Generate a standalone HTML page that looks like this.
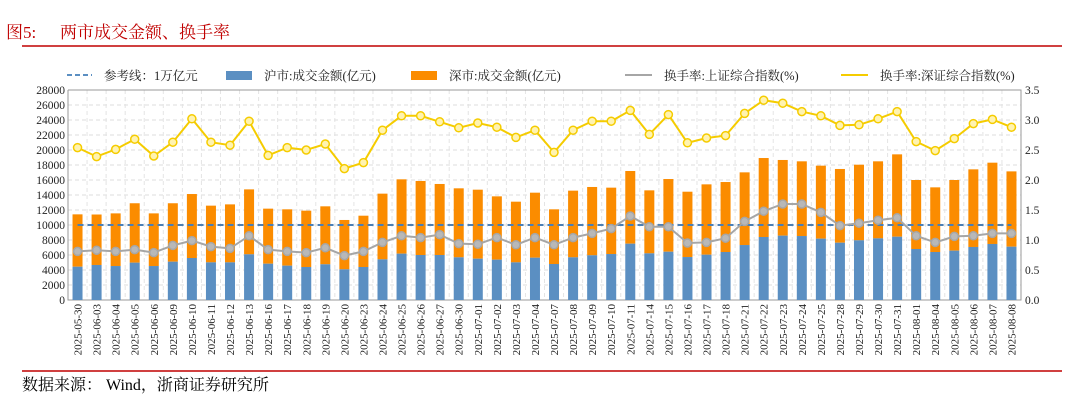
<!DOCTYPE html>
<html><head><meta charset="utf-8"><style>
body{margin:0;background:#fff;width:1080px;height:402px;overflow:hidden;font-family:"Liberation Serif","Noto Serif CJK SC",serif}
</style></head><body>
<svg id="c" width="1080" height="402" xmlns="http://www.w3.org/2000/svg">
<text x="6" y="38" font-size="17" fill="#c00000" font-family="Liberation Serif, Noto Serif CJK SC, serif">图5:</text>
<text x="60" y="38" font-size="17" fill="#c00000" font-family="Liberation Serif, Noto Serif CJK SC, serif">两市成交金额、换手率</text>
<line x1="22" y1="46" x2="1062" y2="46" stroke="#c00000" stroke-width="1.5"/>
<line x1="22" y1="371" x2="1062" y2="371" stroke="#c00000" stroke-width="1.5"/>
<text x="22" y="390" font-size="16" fill="#000" font-family="Liberation Serif, Noto Serif CJK SC, serif">数据来源： Wind，浙商证券研究所</text>
<g id="g"></g>
</svg>
<script>
const dates=["2025-05-30","2025-06-03","2025-06-04","2025-06-05","2025-06-06","2025-06-09","2025-06-10","2025-06-11","2025-06-12","2025-06-13","2025-06-16","2025-06-17","2025-06-18","2025-06-19","2025-06-20","2025-06-23","2025-06-24","2025-06-25","2025-06-26","2025-06-27","2025-06-30","2025-07-01","2025-07-02","2025-07-03","2025-07-04","2025-07-07","2025-07-08","2025-07-09","2025-07-10","2025-07-11","2025-07-14","2025-07-15","2025-07-16","2025-07-17","2025-07-18","2025-07-21","2025-07-22","2025-07-23","2025-07-24","2025-07-25","2025-07-28","2025-07-29","2025-07-30","2025-07-31","2025-08-01","2025-08-04","2025-08-05","2025-08-06","2025-08-07","2025-08-08"];
const totalAmt=[11420,11400,11550,12900,11550,12900,14130,12580,12750,14750,12180,12090,11910,12490,10670,11240,14180,16090,15870,15470,14890,14710,13820,13110,14310,12090,14580,15070,14980,17200,14620,16130,14440,15420,15730,17020,18930,18670,18490,17910,17470,18040,18490,19420,16000,15020,16000,17420,18310,17150];
const shAmt=[4440,4670,4530,4980,4530,5110,5600,5020,5020,6090,4840,4580,4400,4760,4090,4400,5420,6180,6000,6000,5690,5510,5380,5020,5640,4800,5690,5960,6130,7510,6220,6440,5730,6040,6400,7330,8400,8580,8530,8180,7640,7960,8220,8440,6800,6400,6580,7070,7470,7110];
const shTurn=[0.81,0.83,0.81,0.84,0.79,0.91,0.99,0.89,0.86,1.07,0.84,0.81,0.79,0.87,0.74,0.81,0.96,1.07,1.04,1.09,0.94,0.93,1.04,0.92,1.04,0.92,1.04,1.11,1.19,1.40,1.22,1.22,0.95,0.96,1.03,1.31,1.48,1.60,1.60,1.46,1.24,1.28,1.33,1.37,1.07,0.96,1.06,1.07,1.11,1.11];
const szTurn=[2.54,2.39,2.51,2.68,2.40,2.63,3.02,2.63,2.58,2.98,2.41,2.54,2.50,2.60,2.19,2.29,2.83,3.07,3.07,2.97,2.87,2.95,2.88,2.71,2.83,2.46,2.83,2.98,2.98,3.16,2.76,3.09,2.62,2.70,2.74,3.11,3.33,3.28,3.14,3.07,2.91,2.92,3.02,3.14,2.64,2.49,2.69,2.94,3.01,2.88];
const refLine=10000;
const leftTicks=[0,2000,4000,6000,8000,10000,12000,14000,16000,18000,20000,22000,24000,26000,28000];
const rightTicks=["0.0","0.5","1.0","1.5","2.0","2.5","3.0","3.5"];

const L=68,R=1021,T=90,B=300,NS="http://www.w3.org/2000/svg";
const g=document.getElementById('g');
const step=(R-L)/dates.length;
const xc=i=>L+step*(i+0.5);
const yL=v=>B-(v/28000)*(B-T);
const yR=v=>B-(v/3.5)*(B-T);
function el(t,a,p){const e=document.createElementNS(NS,t);for(const k in a)e.setAttribute(k,a[k]);(p||g).appendChild(e);return e;}
leftTicks.forEach(v=>{const l=el('line',{x1:L,x2:R,y1:yL(v),y2:yL(v),stroke:'#ddd','stroke-dasharray':'4,3'});

});
dates.forEach((d,i)=>{const l=el('line',{x1:L+step*(i+1),x2:L+step*(i+1),y1:T,y2:B,stroke:'#e4e4e4','stroke-dasharray':'4,3'});

});
const ax=el('path',{d:`M${L},${T}V${B}H${R}V${T}H${L}`,fill:'none',stroke:'#999'});


leftTicks.forEach(v=>{const t=el('text',{x:L-3,y:yL(v)+4,'text-anchor':'end','font-size':11.5,fill:'#222'});t.textContent=v;

});
rightTicks.forEach(v=>{const t=el('text',{x:R+4,y:yR(+v)+4,'font-size':11.5,fill:'#222'});t.textContent=v;

});
dates.forEach((d,i)=>{const t=el('text',{x:0,y:0,'text-anchor':'end','font-size':11,fill:'#222',transform:`translate(${xc(i)+4},${B+4}) rotate(-90)`});t.textContent=d;

});
const bw=10;
dates.forEach((d,i)=>{
 const b1=el('rect',{x:xc(i)-bw/2,y:yL(totalAmt[i]),width:bw,height:yL(shAmt[i])-yL(totalAmt[i]),fill:'#fb8c00'});
 
 
 const b2=el('rect',{x:xc(i)-bw/2,y:yL(shAmt[i]),width:bw,height:B-yL(shAmt[i]),fill:'#5b8fc2'});
 
 
});
const rl=el('line',{x1:xc(0),x2:xc(dates.length-1),y1:yL(refLine),y2:yL(refLine),stroke:'#4a7fb5','stroke-width':2,'stroke-dasharray':'6,4'});


function series(arr,col,fill,name){
 const p=el('polyline',{points:arr.map((v,i)=>xc(i)+','+yR(v)).join(' '),fill:'none',stroke:col,'stroke-width':2});
 
 
 arr.forEach((v,i)=>{const c=el('circle',{cx:xc(i),cy:yR(v),r:4,fill:fill,stroke:col,'stroke-width':1.5});
 
 });
}
series(shTurn,'#a6a6a6','#b8b8b8','sh-turnover');
series(szTurn,'#f5cc00','#fff3b0','sz-turnover');
const lg=el('g',{});


const ly=75;
el('line',{x1:67,x2:92,y1:ly,y2:ly,stroke:'#5b8fc2','stroke-width':2,'stroke-dasharray':'5,3'},lg);
el('rect',{x:226,y:ly-4,width:26,height:9,fill:'#5b8fc2'},lg);
el('rect',{x:411,y:ly-4,width:26,height:9,fill:'#fb8c00'},lg);
el('line',{x1:625,x2:652,y1:ly,y2:ly,stroke:'#a6a6a6','stroke-width':2},lg);
el('line',{x1:841,x2:868,y1:ly,y2:ly,stroke:'#f5cc00','stroke-width':2},lg);
[[104,'参考线：1万亿元'],[264,'沪市:成交金额(亿元)'],[449,'深市:成交金额(亿元)'],[664,'换手率:上证综合指数(%)'],[880,'换手率:深证综合指数(%)']].forEach(([x,s])=>{
 const t=el('text',{x:x,y:ly+5,'font-size':12.5,fill:'#222'},lg);t.textContent=s;
 
 
});
</script>
</body></html>
